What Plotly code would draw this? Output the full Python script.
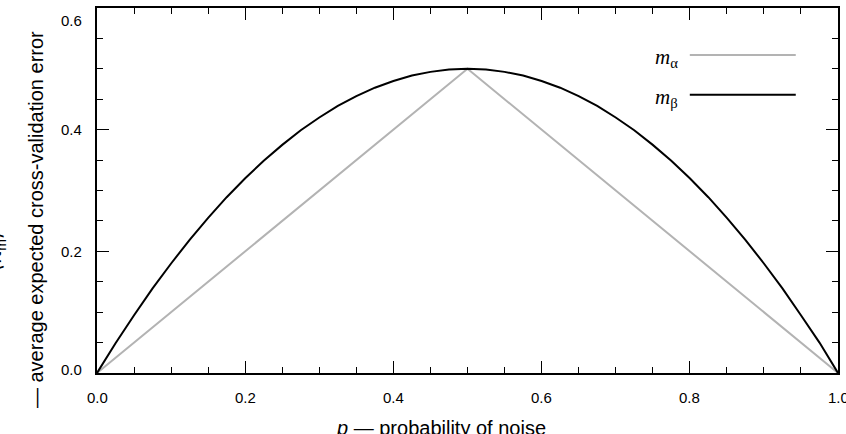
import plotly.graph_objects as go

# Data
p_beta = [0.0, 0.025, 0.05, 0.075, 0.1, 0.125, 0.15, 0.175, 0.2, 0.225, 0.25,
          0.275, 0.3, 0.325, 0.35, 0.375, 0.4, 0.425, 0.45, 0.475, 0.5,
          0.525, 0.55, 0.575, 0.6, 0.625, 0.65, 0.675, 0.7, 0.725, 0.75,
          0.775, 0.8, 0.825, 0.85, 0.875, 0.9, 0.925, 0.95, 0.975, 1.0]
err_beta = [0.0, 0.049, 0.095, 0.139, 0.18, 0.219, 0.255, 0.289, 0.32, 0.349, 0.375,
            0.399, 0.42, 0.439, 0.455, 0.469, 0.48, 0.489, 0.495, 0.499, 0.5,
            0.499, 0.495, 0.489, 0.48, 0.469, 0.455, 0.439, 0.42, 0.399, 0.375,
            0.349, 0.32, 0.289, 0.255, 0.219, 0.18, 0.139, 0.095, 0.05, 0.0]
p_alpha = [0.0, 0.5, 1.0]
err_alpha = [0.0, 0.5, 0.0]

x_ticks = [0.0, 0.2, 0.4, 0.6, 0.8, 1.0]
y_ticks = [0.0, 0.2, 0.4, 0.6]

GRAY = "#b3b3b3"
BLACK = "#000000"

fig = go.Figure()
fig.add_trace(go.Scatter(x=p_alpha, y=err_alpha, mode="lines",
                         line=dict(color=GRAY, width=2), cliponaxis=False,
                         showlegend=False))
fig.add_trace(go.Scatter(x=p_beta, y=err_beta, mode="lines",
                         line=dict(color=BLACK, width=2),
                         cliponaxis=False, showlegend=False))

axis_common = dict(showline=True, linecolor="black", linewidth=1.5, mirror="ticks",
                   ticks="inside", ticklen=12, tickwidth=1, tickcolor="black",
                   showgrid=False, zeroline=False, automargin=False, showticklabels=False,
                   minor=dict(ticks="inside", ticklen=6, tickwidth=1, tickcolor="black",
                              dtick=0.05, showgrid=False))

fig.update_xaxes(range=[0, 1], tickvals=x_ticks, **axis_common)
fig.update_yaxes(range=[0, 0.6], tickvals=y_ticks, **axis_common)

tick_font = dict(family="Liberation Sans", size=15, color="black")
annotations = []
for v in y_ticks:
    shift = -12 if v == 0.6 else (4 if v == 0.0 else 0)
    annotations.append(dict(x=0, y=v, xref="paper", yref="y", text=f"{v:.1f}",
                            showarrow=False, xanchor="right", yanchor="middle",
                            xshift=-13, yshift=shift, font=tick_font))
for v in x_ticks:
    annotations.append(dict(x=v, y=0, xref="x", yref="paper", text=f"{v:.1f}",
                            showarrow=False, xanchor="center", yanchor="middle",
                            yshift=-24, font=tick_font))

# axis titles
annotations.append(dict(x=0.464, y=-0.1507, xref="paper", yref="paper",
                        text="<i>p</i> — probability of noise", showarrow=False,
                        xanchor="center", yanchor="middle",
                        font=dict(family="Liberation Sans", size=20, color="black")))
annotations.append(dict(x=-0.0823, y=0.419, xref="paper", yref="paper",
                        text="— average expected cross-validation error", showarrow=False,
                        textangle=-90, xanchor="center", yanchor="middle",
                        font=dict(family="Liberation Sans", size=20, color="black")))
annotations.append(dict(x=-0.137, y=0.3315, xref="paper", yref="paper",
                        text="⟨π<sub>m</sub>⟩", showarrow=False,
                        textangle=-90, xanchor="center", yanchor="middle",
                        font=dict(family="Liberation Sans", size=20, color="black")))

# legend (labels left of line samples)
legend_items = [("<i>m</i><sub>α</sub>", GRAY, 0.871), ("<i>m</i><sub>β</sub>", BLACK, 0.762)]
shapes = []
for label, color, ly in legend_items:
    shapes.append(dict(type="line", xref="paper", yref="paper", x0=0.800, x1=0.943,
                       y0=ly, y1=ly, line=dict(color=color, width=2)))
    annotations.append(dict(x=0.787, y=ly, xref="paper", yref="paper", text=label,
                            showarrow=False, xanchor="right", yanchor="middle", yshift=-3,
                            font=dict(family="Liberation Serif", size=21, color="black")))

fig.update_layout(width=846, height=434, margin=dict(l=97, r=8, t=8, b=61),
                  plot_bgcolor="white", paper_bgcolor="white",
                  annotations=annotations, shapes=shapes, showlegend=False)

fig.write_html("out.html")
